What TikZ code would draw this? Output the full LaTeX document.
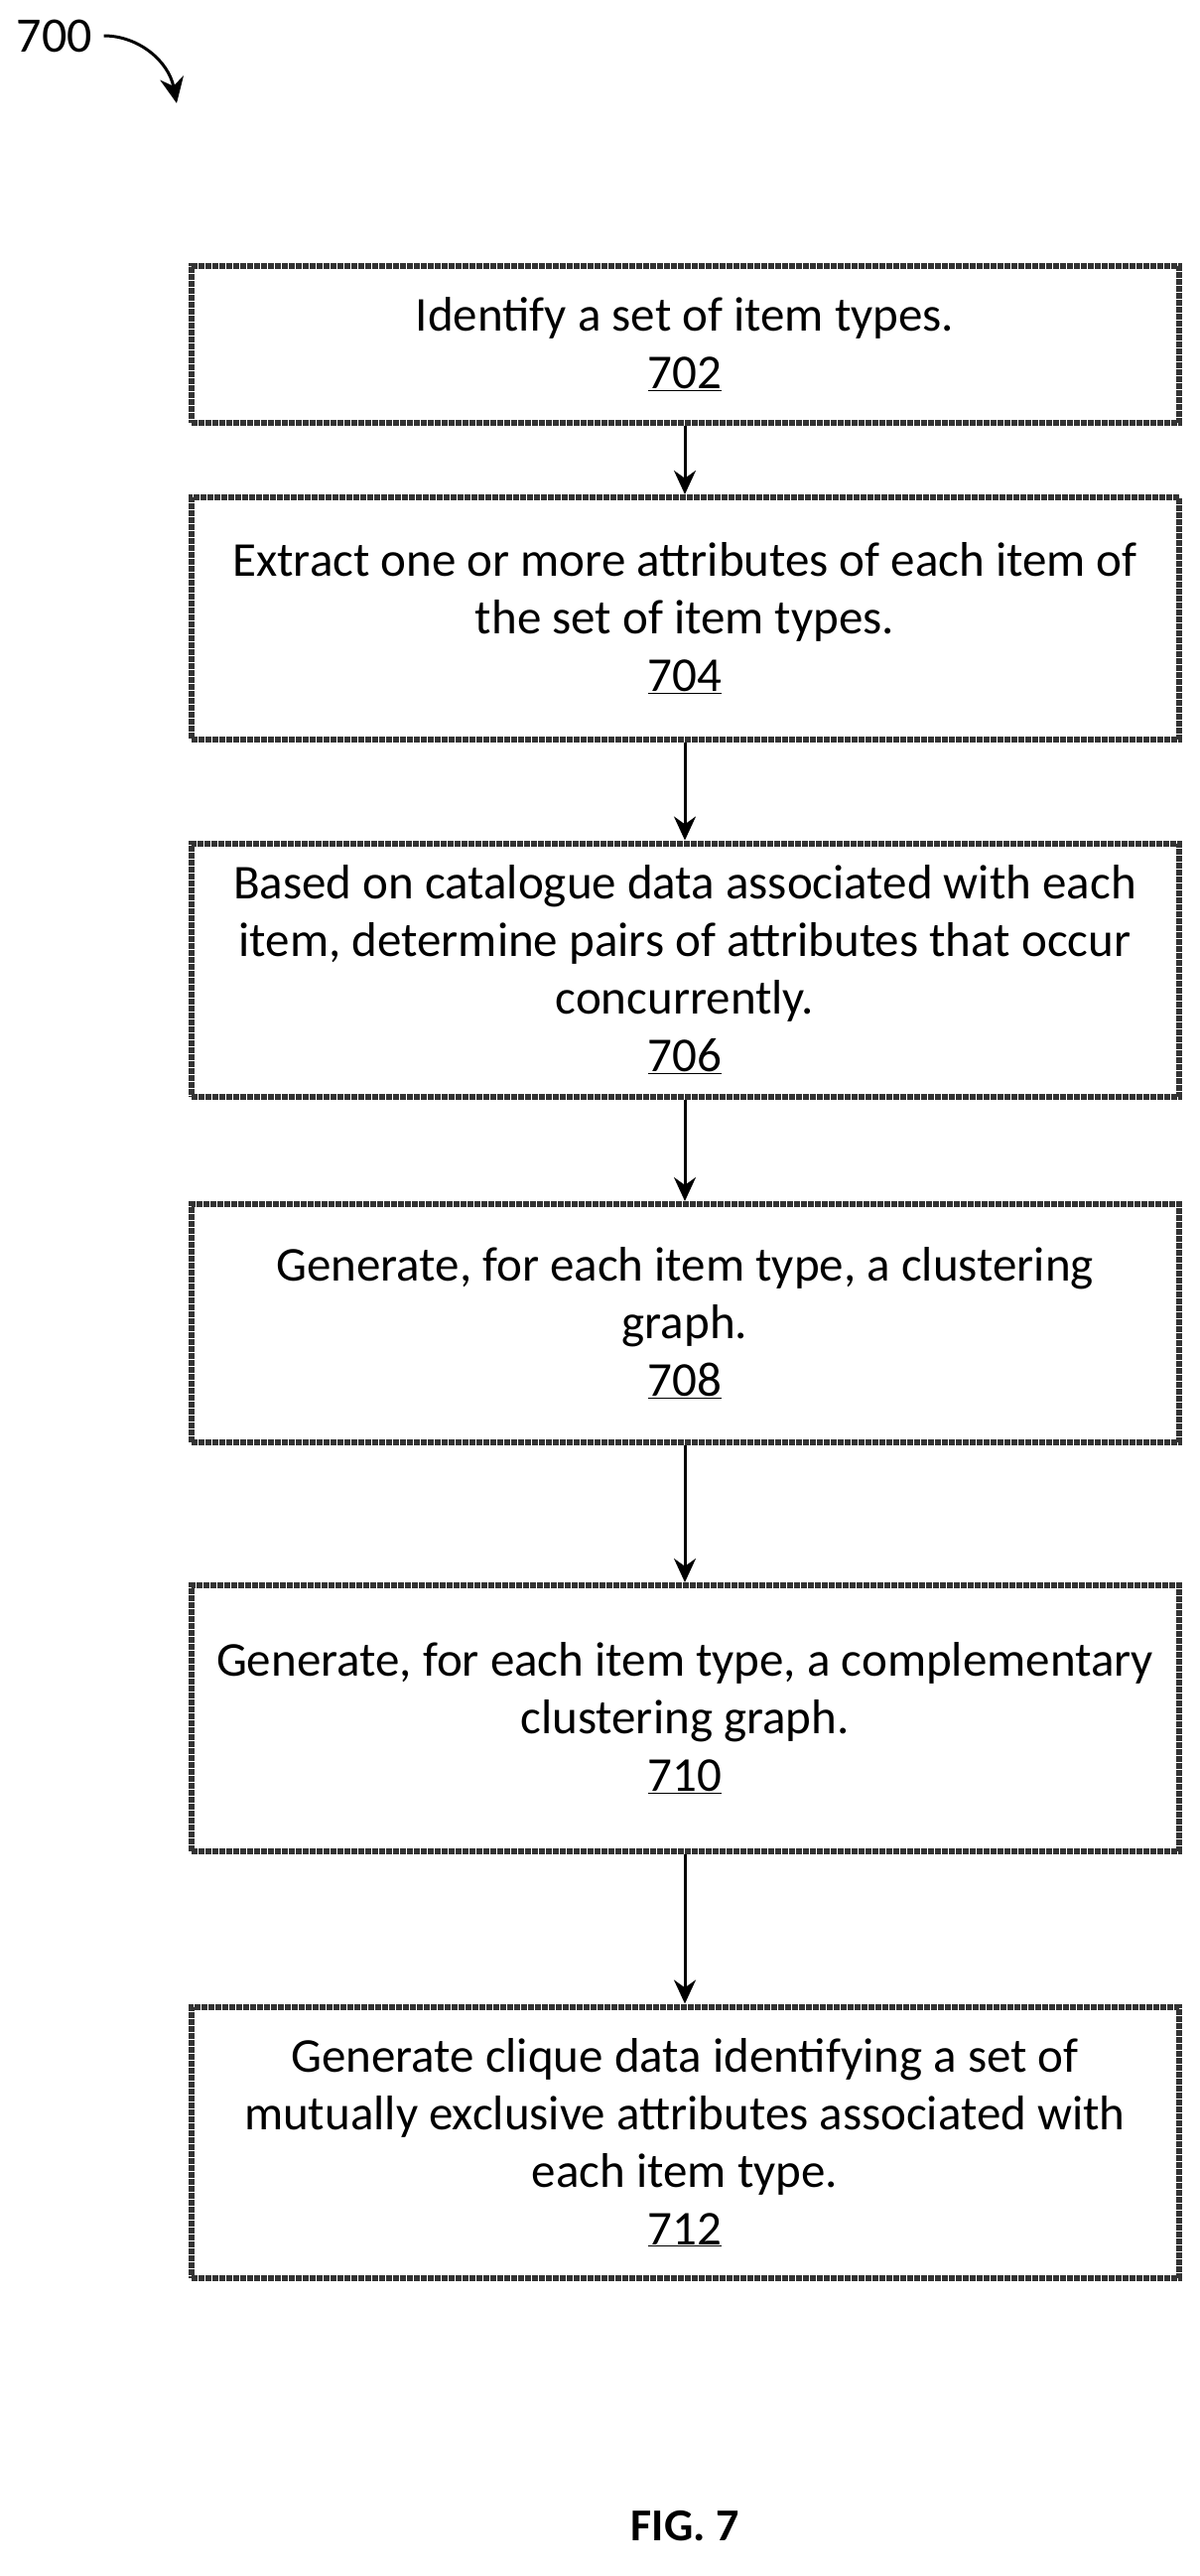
\documentclass[tikz,border=0pt]{standalone}
\usepackage{fontspec}
\setmainfont{Carlito}
\usetikzlibrary{arrows.meta,positioning}
\tikzset{
  stepbox/.style={draw=black!80,line width=6pt,densely dotted,minimum width=995pt,
    align=center,font=\fontsize{49}{58}\selectfont,inner sep=0pt},
  flow/.style={line width=3pt,-{Stealth[length=24pt,width=22pt]}}
}
\begin{document}
\begin{tikzpicture}[x=1pt,y=-1pt]
        \useasboundingbox (0,0) rectangle (1209,2595);
        \node[font=\fontsize{50}{56}\selectfont] (lbl) at (55,36) {700};
        \coordinate (tip) at (178,104);
        \draw[line width=3pt,-{Stealth[length=26pt,width=24pt]}] (lbl.east) ++(8,0) .. controls (140,36) and (170,62) .. (tip);
        \node[stepbox,minimum height=158pt] (s702) at (690,347) {Identify a set of item types.\\\underline{702}};
        \node[stepbox,minimum height=244pt] (s704) at (690,623) {Extract one or more attributes of each item of\\the set of item types.\\\underline{704}};
        \node[stepbox,minimum height=255pt] (s706) at (690,977) {Based on catalogue data associated with each\\item, determine pairs of attributes that occur\\concurrently.\\\underline{706}};
        \node[stepbox,minimum height=240pt] (s708) at (690,1333) {Generate, for each item type, a clustering\\graph.\\\underline{708}};
        \node[stepbox,minimum height=268pt] (s710) at (690,1731) {Generate, for each item type, a complementary\\clustering graph.\\\underline{710}};
        \node[stepbox,minimum height=273pt] (s712) at (690,2158) {Generate clique data identifying a set of\\mutually exclusive attributes associated with\\each item type.\\\underline{712}};
        \draw[flow] (s702) -- (s704);
        \draw[flow] (s704) -- (s706);
        \draw[flow] (s706) -- (s708);
        \draw[flow] (s708) -- (s710);
        \draw[flow] (s710) -- (s712);
        \node[font=\fontsize{46}{52}\selectfont\bfseries] (fig) at (690,2545) {FIG. 7};
      \end{tikzpicture}
\end{document}
